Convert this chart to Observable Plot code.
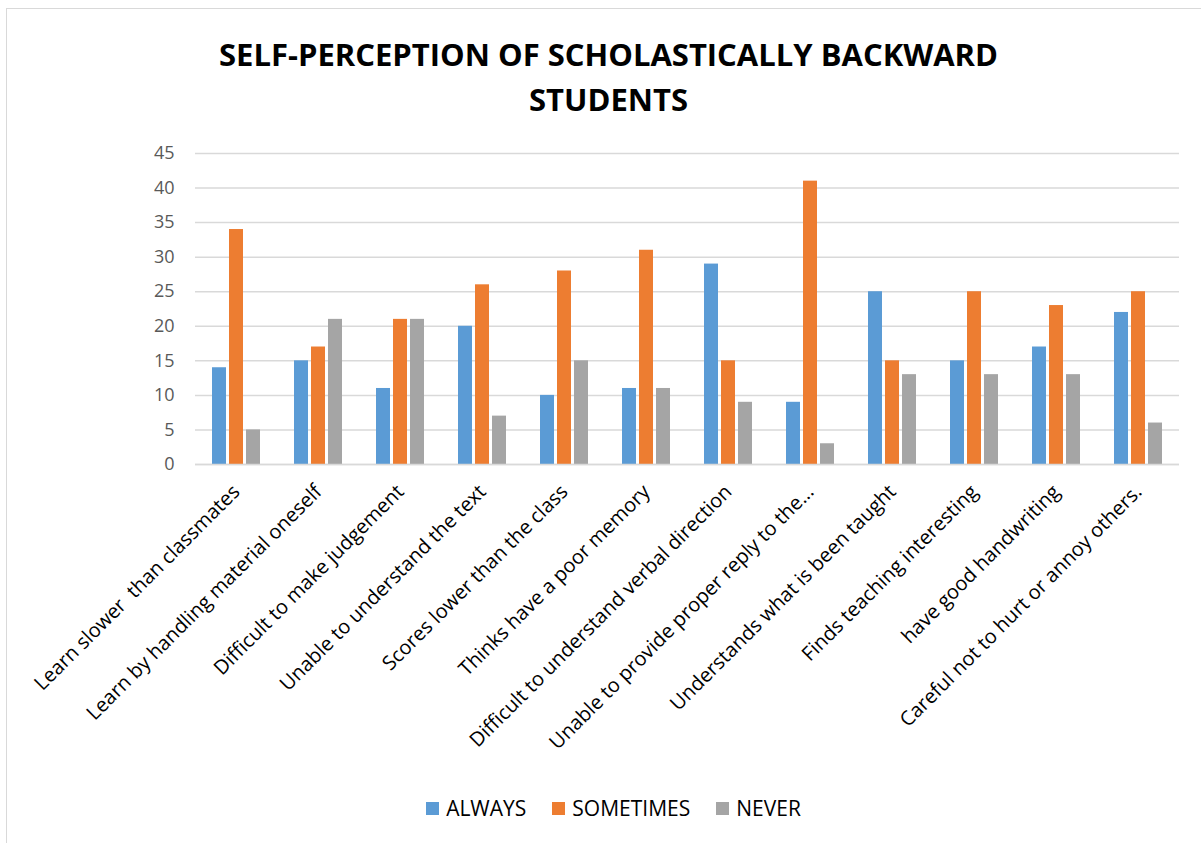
<!DOCTYPE html>
<html>
<head>
<meta charset="utf-8">
<script src="https://cdn.jsdelivr.net/npm/d3@7"></script>
<script src="https://cdn.jsdelivr.net/npm/@observablehq/plot@0.6"></script>
<style>
  html, body { margin: 0; padding: 0; background: #fff; }
  body { width: 1201px; height: 843px; overflow: hidden; position: relative; font-family: "Open Sans", sans-serif; }
  #frame { position: absolute; left: 6px; top: 8px; width: 1210px; height: 850px; border: 1px solid #d9d9d9; box-sizing: border-box; }
  #title { position: absolute; left: 8px; top: 0; width: 1201px; height: 140px; text-align: center; padding-top: 32px; box-sizing: border-box; }
  #title div { font-family: "Open Sans", sans-serif; font-weight: 700; font-size: 31px; color: #000; line-height: 45px; }
  #chart { position: absolute; left: 0; top: 140px; }
  #legend { position: absolute; left: 13px; top: 794px; width: 1201px; display: flex; justify-content: center; gap: 26px; font-family: "Open Sans", sans-serif; font-size: 21px; color: #000; }
  #legend span.item { display: flex; align-items: center; gap: 7px; }
  #legend span.sw { display: inline-block; width: 13px; height: 13px; }
</style>
</head>
<body>
<div id="frame"></div>
<div id="title"><div>SELF-PERCEPTION OF SCHOLASTICALLY BACKWARD<br>STUDENTS</div></div>
<div id="chart"></div>
<div id="legend"></div>
<script>
const categories = [
  "Learn slower  than classmates",
  "Learn by handling material oneself",
  "Difficult to make judgement",
  "Unable to understand the text",
  "Scores lower than the class",
  "Thinks have a poor memory",
  "Difficult to understand verbal direction",
  "Unable to provide proper reply to the...",
  "Understands what is been taught",
  "Finds teaching interesting",
  "have good handwriting",
  "Careful not to hurt or annoy others."
];
const seriesNames = ["ALWAYS", "SOMETIMES", "NEVER"];
const always    = [14, 15, 11, 20, 10, 11, 29,  9, 25, 15, 17, 22];
const sometimes = [34, 17, 21, 26, 28, 31, 15, 41, 15, 25, 23, 25];
const never     = [ 5, 21, 21,  7, 15, 11,  9,  3, 13, 13, 13,  6];
const yTicks = [0, 5, 10, 15, 20, 25, 30, 35, 40, 45];
const colors = ["#5B9BD5", "#ED7D31", "#A5A5A5"];

const seriesValues = [always, sometimes, never];
const data = [];
categories.forEach((c, i) => {
  seriesNames.forEach((s, j) => data.push({category: c, series: s, value: seriesValues[j][i]}));
});

const chart = Plot.plot({
  width: 1201,
  height: 650,
  marginTop: 13,
  marginBottom: 326,
  marginLeft: 193,
  marginRight: 20,
  style: {fontFamily: "'Open Sans', sans-serif", background: "transparent"},
  fx: {domain: categories, padding: 0, label: null},
  x: {domain: seriesNames, paddingInner: 0.1667, paddingOuter: 0.868, axis: null},
  y: {domain: [0, 45], ticks: yTicks, label: null},
  color: {domain: seriesNames, range: colors},
  marks: [
    Plot.gridY(yTicks, {stroke: "#d9d9d9", strokeOpacity: 1, strokeWidth: 1.5}),
    Plot.axisY({ticks: yTicks, tickSize: 0, tickPadding: 21, fontSize: 18, fill: "#595959", label: null}),
    Plot.axisFx({anchor: "bottom", tickSize: 0, tickRotate: -45, fontSize: 20, fill: "#000", label: null, tickPadding: 24}),
    Plot.barY(data, {fx: "category", x: "series", y: "value", fill: "series"}),
    Plot.ruleY([0], {stroke: "#d9d9d9", strokeWidth: 1.5})
  ]
});
document.getElementById("chart").appendChild(chart);

const legend = document.getElementById("legend");
seriesNames.forEach((s, j) => {
  const item = document.createElement("span");
  item.className = "item";
  const sw = document.createElement("span");
  sw.className = "sw";
  sw.style.background = colors[j];
  const t = document.createElement("span");
  t.textContent = s;
  item.appendChild(sw);
  item.appendChild(t);
  legend.appendChild(item);
});
</script>
</body>
</html>
